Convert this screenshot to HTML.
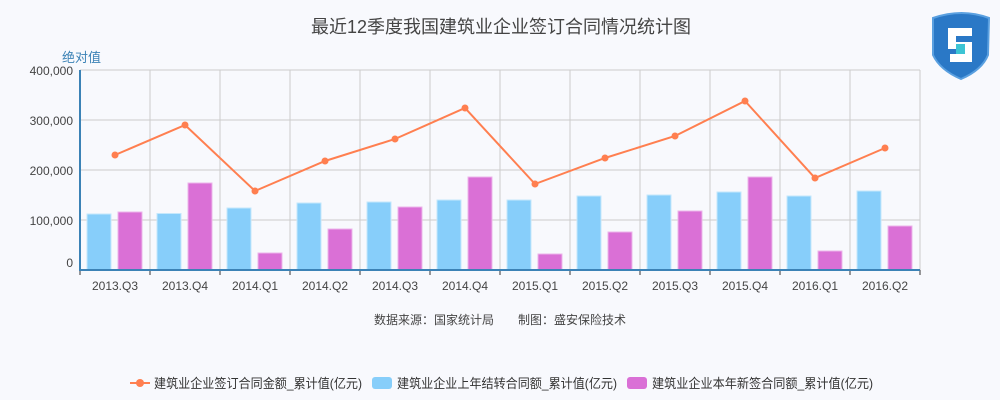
<!DOCTYPE html>
<html><head><meta charset="utf-8"><style>
body{margin:0;background:#f8f9fd;}
svg{display:block;font-family:"Liberation Sans","Noto Sans CJK SC",sans-serif;}
</style></head><body>
<svg id="chart" width="1000" height="400">
<text x="501" y="33" text-anchor="middle" font-size="18" fill="#444">最近12季度我国建筑业企业签订合同情况统计图</text>
<text x="62" y="62" font-size="13" fill="#3b82b6">绝对值</text>
<g>
<path d="M933 18 Q962 8 989 18 L988 55 Q982 70 961 79 Q940 70 933 55 Z" fill="#2a78c6" stroke="#5aa0e0" stroke-width="2"/>
<path d="M948 28 H972 V36 H956 V42 H972 V62 H950 V54 H964 V49 H948 Z" fill="#fff"/>
<rect x="956" y="44" width="9" height="10" fill="#3cc4d4"/>
</g>
<g id="grid"></g><g id="bars"></g><g id="line"></g><g id="axes"></g>
<text x="500" y="324" text-anchor="middle" font-size="12" fill="#444">数据来源：国家统计局　　制图：盛安保险技术</text>
<g>
<g><line x1="130" y1="383" x2="150" y2="383" stroke="#ff7f50" stroke-width="2"/><circle cx="140" cy="383" r="4" fill="#ff7f50"/><text x="154" y="388" font-size="13" fill="#333" textLength="208" lengthAdjust="spacingAndGlyphs">建筑业企业签订合同金额_累计值(亿元)</text></g>
<g><rect x="372" y="377" width="20" height="12" rx="3" fill="#87cefa"/><text x="397" y="388" font-size="13" fill="#333" textLength="220" lengthAdjust="spacingAndGlyphs">建筑业企业上年结转合同额_累计值(亿元)</text></g>
<g><rect x="627" y="377" width="20" height="12" rx="3" fill="#da70d6"/><text x="652" y="388" font-size="13" fill="#333" textLength="221" lengthAdjust="spacingAndGlyphs">建筑业企业本年新签合同额_累计值(亿元)</text></g>
</g>
</svg>
<script>
const categories=["2013.Q3","2013.Q4","2014.Q1","2014.Q2","2014.Q3","2014.Q4","2015.Q1","2015.Q2","2015.Q3","2015.Q4","2016.Q1","2016.Q2"];
const totalValues=[230000,290000,158000,218000,262000,324000,172000,224000,268000,338000,184000,244000];
const carryValues=[112000,113000,124000,134000,136000,140000,140000,148000,150000,156000,148000,158000];
const newValues=[116000,174000,34000,82000,126000,186000,32000,76000,118000,186000,38000,88000];
const yTicks=[0,100000,200000,300000,400000];
const yTickLabels=["0","100,000","200,000","300,000","400,000"];
const NS="http://www.w3.org/2000/svg";
const L=80,R=920,T=70,B=270,yMax=400000;
const bw=(R-L)/categories.length;
const y=v=>B-(v/yMax)*(B-T);
const x=i=>L+bw*i;
function mk(p,tag,at){const e=document.createElementNS(NS,tag);for(const k in at)e.setAttribute(k,at[k]);document.getElementById(p).appendChild(e);return e;}
yTicks.forEach((t,i)=>{
 if(t>0){const g=mk('grid','line',{x1:L,x2:R,y1:y(t),y2:y(t),stroke:'#ccc'});
 
 }
 const lb=mk('axes','text',{x:73,y:t===0?y(t)-3:y(t)+5,'text-anchor':'end','font-size':12,fill:'#444'});lb.textContent=yTickLabels[i];
 
 
});
mk('grid','line',{x1:R,x2:R,y1:T,y2:B,stroke:'#ccc'});
categories.forEach((c,i)=>{
 if(i>0){const g=mk('grid','line',{x1:x(i),x2:x(i),y1:T,y2:B,stroke:'#ccc'});
 
 }
 const b1=mk('bars','rect',{x:x(i)+7,y:y(carryValues[i]),width:24,height:B-y(carryValues[i]),fill:'#87cefa',stroke:'#c5e8fc'});
 
 
 const b2=mk('bars','rect',{x:x(i)+38,y:y(newValues[i]),width:24,height:B-y(newValues[i]),fill:'#da70d6',stroke:'#ecb5ea'});
 
 
 const tk=mk('axes','line',{x1:x(i),x2:x(i),y1:B,y2:B+5,stroke:'#333'});
 
 
 const lb=mk('axes','text',{x:x(i)+bw/2,y:B+20,'text-anchor':'middle','font-size':12,fill:'#444'});lb.textContent=c;
 
 
});
mk('axes','line',{x1:R,x2:R,y1:B,y2:B+5,stroke:'#333'});
const pts=totalValues.map((v,i)=>(x(i)+bw/2)+','+y(v)).join(' ');
const pl=mk('line','polyline',{points:pts,fill:'none',stroke:'#ff7f50','stroke-width':2});


totalValues.forEach((v,i)=>{const c=mk('line','circle',{cx:x(i)+bw/2,cy:y(v),r:3.5,fill:'#ff7f50'});
 
 });
const ax=mk('axes','line',{x1:L,x2:L,y1:T,y2:B+1,stroke:'#3b82b6','stroke-width':2});


const xa=mk('axes','line',{x1:L-1,x2:R,y1:B,y2:B,stroke:'#3b82b6','stroke-width':2});


</script>
</body></html>
